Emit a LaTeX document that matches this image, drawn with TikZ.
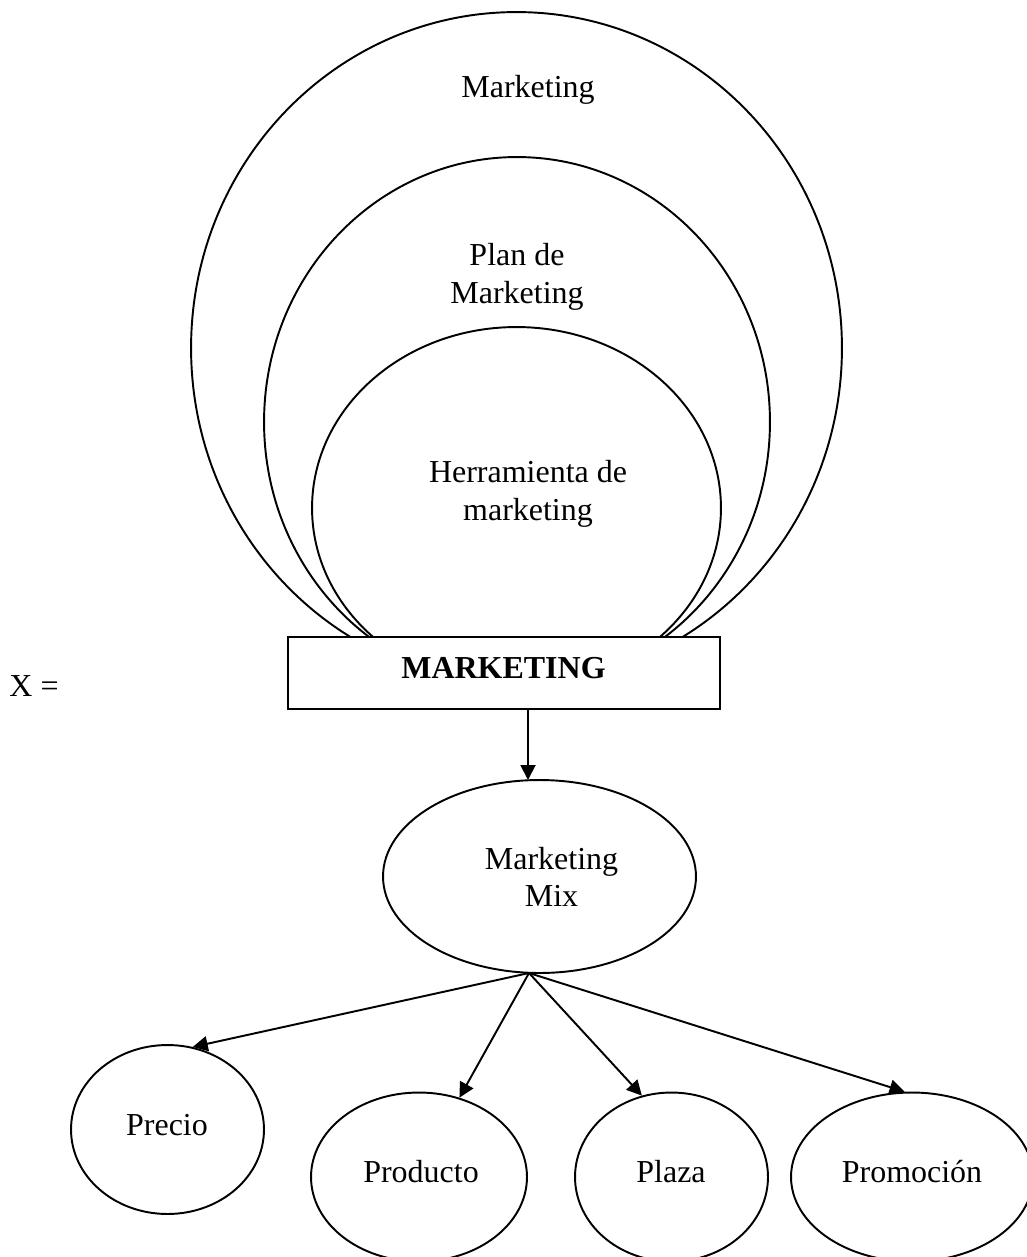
\documentclass[tikz,border=0pt]{standalone}
\usepackage{fontspec}
\setmainfont{Liberation Serif}
\usetikzlibrary{shapes.geometric,arrows.meta}
\begin{document}
\begin{tikzpicture}[x=0.02cm,y=-0.02cm,
  txt/.style={font=\fontsize{18.2pt}{21.5pt}\selectfont, align=center, inner sep=0pt},
  ring/.style={ellipse, draw, line width=1.1pt, inner sep=0pt},
  oval/.style={ellipse, draw, line width=1.1pt, inner sep=0pt, fill=white},
  conn/.style={line width=1.1pt, -{Triangle[length=0.3cm,width=0.3cm]}}]
\useasboundingbox (0,0) rectangle (1027,1257);
% nested rings
\node[ring, minimum width=13.02cm, minimum height=13.44cm] (outer) at (516.5,348) {};
\node[ring, minimum width=10.12cm, minimum height=10.6cm] (middle) at (517,422) {};
\node[ring, minimum width=8.18cm, minimum height=7.24cm] (inner) at (516.5,508) {};
\node[txt] (tmk) at (528,90) {Marketing};
\node[txt] (tplan) at (517,277) {Plan de\\Marketing};
\node[txt] (therr) at (528,494) {Herramienta de\\marketing};
% main box
\node[draw, fill=white, line width=1.6pt, minimum width=8.64cm, minimum height=1.44cm, inner sep=0pt] (box) at (504,673) {};
\node[txt, font=\fontsize{18.2pt}{21.5pt}\selectfont\bfseries] (tbox) at (503.5,668) {MARKETING};
\node[txt] (x) at (34,686) {X =};
% marketing mix
\node[oval, minimum width=6.26cm, minimum height=3.86cm] (mix) at (539.5,876.5) {};
\node[txt] (tmix) at (551.5,877) {Marketing\\Mix};
\coordinate (top) at (528,709);
\coordinate (mtop) at (528,780);
\draw[conn] (top) -- (mtop);
% four Ps
\node[oval, minimum width=3.86cm, minimum height=3.38cm] (precio) at (167.5,1129.5) {};
\node[oval, minimum width=4.32cm, minimum height=3.38cm] (producto) at (419,1177) {};
\node[oval, minimum width=3.86cm, minimum height=3.38cm] (plaza) at (671.5,1177) {};
\node[oval, minimum width=4.84cm, minimum height=3.38cm] (promo) at (912,1177) {};
\node[txt] (tprecio) at (167,1125) {Precio};
\node[txt] (tproducto) at (421,1172) {Producto};
\node[txt] (tplaza) at (671,1172) {Plaza};
\node[txt] (tpromo) at (912,1172) {Promoción};
\coordinate (o) at (529,973);
\draw[conn] (o) -- (precio.73);
\draw[conn] (o) -- (producto.63);
\draw[conn] (o) -- (plaza.110);
\draw[conn] (o) -- (promo.95);
\end{tikzpicture}
\end{document}
